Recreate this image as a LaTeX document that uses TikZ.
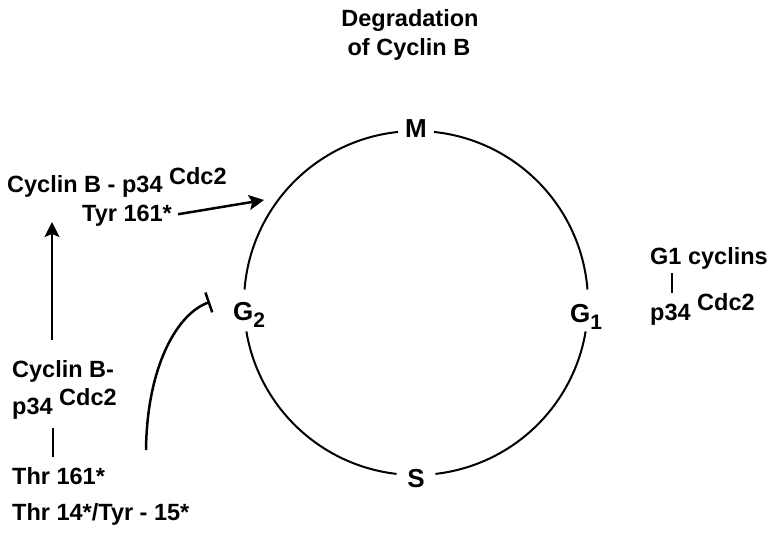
\documentclass[tikz,border=0pt]{standalone}
\usepackage{fontspec}
\setmainfont{Liberation Sans}
\usetikzlibrary{arrows.meta}
\begin{document}
\begin{tikzpicture}[x=1pt,y=-1pt,
  txt/.style={font=\fontsize{23.5}{29}\selectfont\bfseries, inner sep=0pt, anchor=base west},
  phase/.style={font=\fontsize{26}{26}\selectfont\bfseries, inner sep=0pt},
  ring/.style={line width=2pt},
  arr/.style={line width=2.5pt, -{Stealth[length=15pt,width=15pt,inset=3pt]}},
  blk/.style={line width=2.5pt, -{Bar[width=21pt,line width=2.5pt]}},
  tick/.style={line width=2pt}]
\useasboundingbox (0,0) rectangle (768,533);

% cell cycle ring, broken at the phase labels
\coordinate (ctr) at (416,303);
\draw[ring] (ctr) ++(96:172pt) arc[start angle=96,end angle=175.5,radius=172pt];
\draw[ring] (ctr) ++(189.5:172pt) arc[start angle=189.5,end angle=263.5,radius=172pt];
\draw[ring] (ctr) ++(276.5:172pt) arc[start angle=276.5,end angle=350.5,radius=172pt];
\draw[ring] (ctr) ++(4.5:172pt) arc[start angle=4.5,end angle=84,radius=172pt];

% phase labels
\node[phase, anchor=base] (M) at (416,137) {M};
\node[phase, anchor=base] (S) at (416,487) {S};
\node[phase, anchor=base west] (G2) at (233,320) {G\raisebox{-7pt}{\fontsize{21}{21}\selectfont 2}};
\node[phase, anchor=base west] (G1) at (570,322) {G\raisebox{-7pt}{\fontsize{21}{21}\selectfont 1}};

% top caption
\node[txt, anchor=base] (deg1) at (410,26) {Degradation};
\node[txt, anchor=base] (deg2) at (409,55) {of Cyclin B};

% active complex (upper left)
\node[txt] (cbp) at (7,192) {Cyclin B - p34 \raisebox{8pt}{Cdc2}};
\node[txt] (tyr) at (82,221) {Tyr 161*};

% inactive complex (lower left)
\node[txt] (cbl) at (12,377) {Cyclin B-};
\node[txt] (p34l) at (12,414) {p34 \raisebox{9pt}{Cdc2}};
\node[txt] (thr1) at (12,484) {Thr 161*};
\node[txt] (thr2) at (12,520) {Thr 14*/Tyr - 15*};

% G1 complex (right)
\node[txt] (g1c) at (650,264) {G1 cyclins};
\node[txt] (p34r) at (650,320) {p34 \raisebox{10pt}{Cdc2}};

% connectors
\coordinate (upS) at (52,340);
\coordinate (upE) at (52,222);
\draw[arr] (upS) -- (upE);

\coordinate (tyrE) at (264,200);
\draw[arr] ([xshift=6pt,yshift=1pt]tyr.east) -- (tyrE);

\coordinate (blkS) at (146,450);
\coordinate (blkE) at (210,302);
\draw[blk] (blkS) .. controls (147,365) and (178,313) .. (blkE);

\draw[tick] (53,428) -- (53,457);
\draw[tick] (672,273) -- (672,293);
\end{tikzpicture}
\end{document}
